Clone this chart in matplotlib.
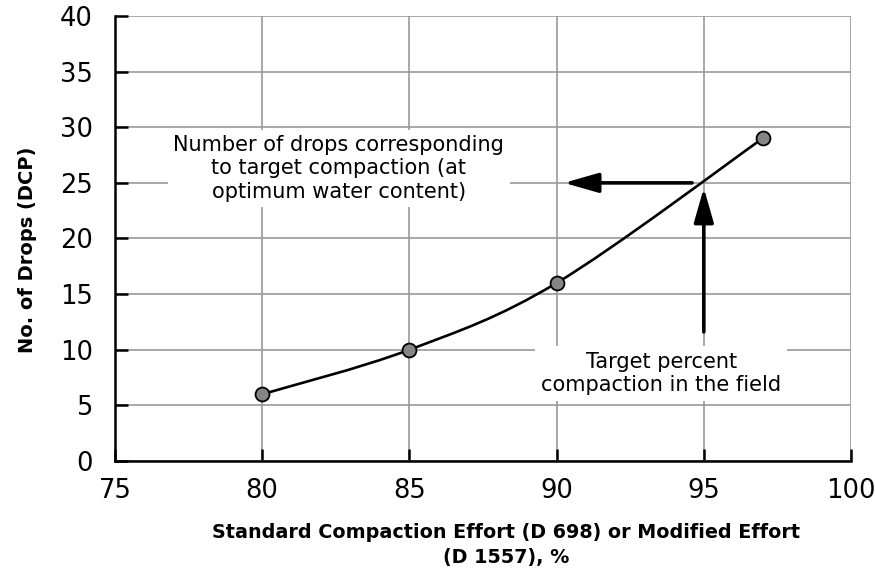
import matplotlib.pyplot as plt
from matplotlib.path import Path
from matplotlib.patches import PathPatch
import numpy as np

# Data
effort = [80, 85, 90, 97]          # % compaction effort
drops = [6, 10, 16, 29]            # DCP drops
x_ticks = [75, 80, 85, 90, 95, 100]
y_ticks = [0, 5, 10, 15, 20, 25, 30, 35, 40]
target_effort = 95
target_drops = 25

note_drops = "Number of drops corresponding\nto target compaction (at\noptimum water content)"
note_target = "Target percent\ncompaction in the field"
xlabel = "Standard Compaction Effort (D 698) or Modified Effort\n(D 1557), %"
ylabel = "No. of Drops (DCP)"


# ----------------------------------------------------------------------------
# Smoothed line through the points (bezier, like a spreadsheet "smooth line")
def smooth_path(xs, ys):
    pts = np.column_stack([xs, ys]).astype(float)
    padded = np.vstack([pts[0], pts, pts[-1]])
    verts = [pts[0]]
    codes = [Path.MOVETO]
    for i in range(len(pts) - 1):
        p0, p1, p2, p3 = padded[i], padded[i + 1], padded[i + 2], padded[i + 3]
        verts += [p1 + (p2 - p0) / 6, p2 - (p3 - p1) / 6, p2]
        codes += [Path.CURVE4] * 3
    return Path(verts, codes)


fig = plt.figure(figsize=(8.75, 5.72), dpi=100)
ax = fig.add_axes([0.1314, 0.1941, 0.8412, 0.7779])

ax.set_xlim(x_ticks[0], x_ticks[-1])
ax.set_ylim(y_ticks[0], y_ticks[-1])
ax.set_xticks(x_ticks)
ax.set_yticks(y_ticks)
ax.grid(True, color='#9a9a9a', lw=1.2, zorder=0)
ax.set_axisbelow(True)

for s in ['top', 'right']:
    ax.spines[s].set_visible(False)
for s in ['left', 'bottom']:
    ax.spines[s].set_linewidth(1.8)
    ax.spines[s].set_zorder(5)

ax.tick_params(direction='in', length=9, width=1.8, labelsize=18.5)
ax.tick_params(axis='y', pad=16)
ax.tick_params(axis='x', pad=12)

ax.add_patch(PathPatch(smooth_path(effort, drops), fill=False,
                       edgecolor='black', lw=1.9, zorder=3))
ax.plot(effort, drops, linestyle='none', marker='o', markersize=10,
        markerfacecolor='#858585', markeredgecolor='black',
        markeredgewidth=1.3, zorder=4)

# Arrows
arrow = dict(arrowstyle='-|>,head_length=1.05,head_width=0.3', lw=2.6,
             color='black', shrinkA=0, shrinkB=0, mutation_scale=20)
ax.annotate('', xy=(target_effort - 4.75, target_drops),
            xytext=(target_effort - 0.4, target_drops), arrowprops=arrow,
            zorder=4)
ax.annotate('', xy=(target_effort, target_drops - 0.45),
            xytext=(target_effort, target_drops - 13.4), arrowprops=arrow,
            zorder=4)

# Notes (white boxes hide the grid behind them)
box = dict(facecolor='white', edgecolor='none', pad=4)
ax.text(82.6, 26.3, note_drops, fontsize=15, ha='center', va='center',
        multialignment='center', bbox=box, zorder=2)
ax.text(93.55, 7.85, note_target, fontsize=15, ha='center', va='center',
        multialignment='center', bbox=box, zorder=2)

ax.set_xlabel(xlabel, fontsize=13.8, fontweight='bold', linespacing=1.35)
ax.set_ylabel(ylabel, fontsize=14, fontweight='bold')
ax.xaxis.set_label_coords(0.531, -0.14)
ax.xaxis.label.set_va('top')
ax.yaxis.set_label_coords(-0.106, 0.474)

plt.savefig('out.png', dpi=100)
plt.close()
